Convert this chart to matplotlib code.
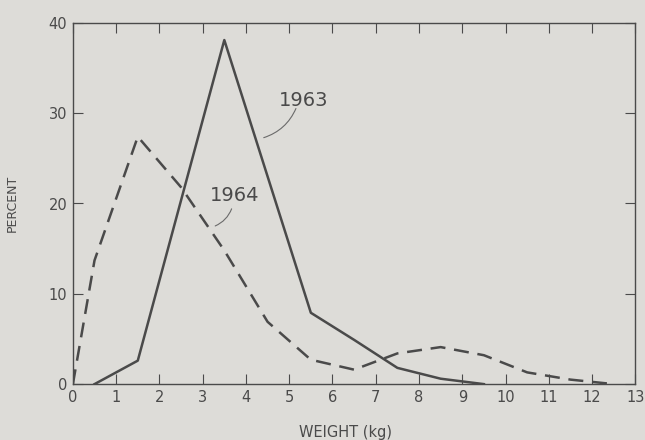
import numpy as np
import matplotlib.pyplot as plt

# weight class midpoints (kg) and percent of catch
w_1963 = [0.5, 1.5, 3.5, 5.5, 6.5, 7.5, 8.5, 9.5]
pct_1963 = [0, 2.6, 38.1, 7.9, 4.9, 1.8, 0.6, 0]

w_1964 = [0, 0.5, 1.5, 2.5, 3.5, 4.5, 5.5, 6.5, 7.5, 8.5, 9.5, 10.5, 11.5, 12.5]
pct_1964 = [0, 13.7, 27.4, 21.8, 14.8, 6.9, 2.7, 1.6, 3.4, 4.1, 3.2, 1.3, 0.5, 0]

bg = '#dddcd8'
ink = '#4a4a4a'

fig = plt.figure(figsize=(6.45, 4.4), dpi=100, facecolor=bg)
ax = fig.add_axes([0.113, 0.127, 0.872, 0.821], facecolor=bg)

ax.plot(w_1963, pct_1963, color=ink, lw=1.8)
ax.plot(w_1964, pct_1964, color=ink, lw=1.8, dashes=(6, 3.5))

ax.set_xlim(0, 13)
ax.set_ylim(0, 40)
ax.set_xticks(range(0, 14))
ax.set_yticks([0, 10, 20, 30, 40])
ax.tick_params(direction='in', top=True, right=True, length=7, width=0.8,
               colors=ink, labelsize=10.5, pad=4)
for s in ax.spines.values():
    s.set_color(ink)
    s.set_linewidth(1.0)

ax.set_xlabel('WEIGHT (kg)', color=ink, fontsize=10.5)
ax.xaxis.set_label_coords(0.485, -0.112)
ax.set_ylabel('PERCENT', color=ink, fontsize=9)
ax.yaxis.set_label_coords(-0.097, 0.5)

# curve labels with leader lines
ax.text(5.33, 31.4, '1963', color=ink, fontsize=14, ha='center', va='center')
ax.annotate('', xy=(4.35, 27.2), xytext=(5.18, 30.8),
            arrowprops=dict(arrowstyle='-', color='#6a6a6a', lw=0.8,
                            connectionstyle='arc3,rad=-0.25'))
ax.text(3.73, 20.9, '1964', color=ink, fontsize=14, ha='center', va='center')
ax.annotate('', xy=(3.23, 17.4), xytext=(3.69, 19.7),
            arrowprops=dict(arrowstyle='-', color='#6a6a6a', lw=0.8,
                            connectionstyle='arc3,rad=-0.25'))

fig.savefig('out.png', dpi=100, facecolor=bg)
